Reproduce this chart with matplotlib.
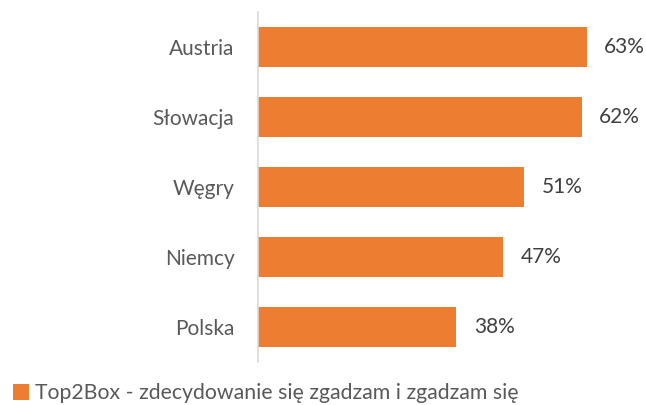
import matplotlib.pyplot as plt
from matplotlib.patches import Patch

# --- Data ---
countries = ['Austria', 'Słowacja', 'Węgry', 'Niemcy', 'Polska']
top2box = [0.63, 0.62, 0.51, 0.47, 0.38]
series_name = 'Top2Box - zdecydowanie się zgadzam i zgadzam się'

bar_color = '#ED7D31'
text_color = '#595959'

plt.rcParams['font.family'] = ['Lato', 'DejaVu Sans']

fig = plt.figure(figsize=(6.46, 4.05), dpi=100)
ax = fig.add_axes([0.3994, 0.1062, 0.5658, 0.8642])

ypos = list(range(len(countries)))[::-1]  # Austria on top
ax.barh(ypos, top2box, height=0.58, color=bar_color, zorder=2)

# value labels to the right of each bar
for y, v in zip(ypos, top2box):
    ax.annotate(f'{v:.0%}', xy=(v, y), xytext=(12.5, 0), textcoords='offset points',
                va='center', ha='left', fontsize=15, color='#404040')

ax.set_yticks(ypos)
ax.set_yticklabels(countries, fontsize=15, color=text_color)
ax.tick_params(axis='y', length=0, pad=17)
ax.set_xticks([])
ax.set_xlim(0, 0.7)
ax.set_ylim(-0.5, 4.5)

for side in ['top', 'right', 'bottom']:
    ax.spines[side].set_visible(False)
ax.spines['left'].set_color('#D9D9D9')
ax.spines['left'].set_linewidth(1.2)

# legend at the bottom left
handle = Patch(facecolor=bar_color, edgecolor='none')
fig.legend([handle], [series_name], loc='center left',
           bbox_to_anchor=(0.02, 0.029), frameon=False, fontsize=15.3,
           handlelength=0.75, handleheight=0.75, handletextpad=0.3,
           borderpad=0, borderaxespad=0, labelcolor=text_color)

fig.savefig('out.png', dpi=100)
